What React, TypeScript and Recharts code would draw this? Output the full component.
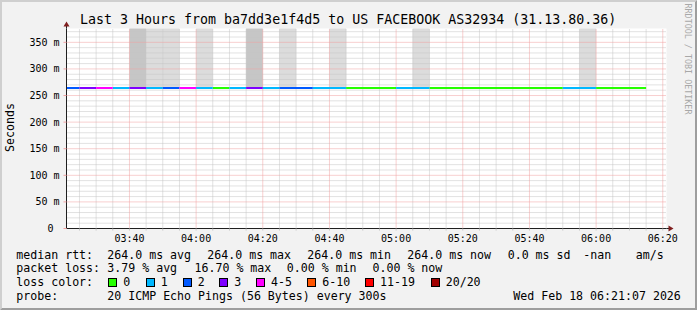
import React from 'react';
import {
  ComposedChart,
  XAxis,
  YAxis,
  Line,
  ReferenceLine,
  ReferenceArea,
  ReferenceDot,
  CartesianGrid,
} from 'recharts';

const FONT = '"DejaVu Sans Mono", "Liberation Mono", monospace';

// ---------- text ----------
const title = 'Last 3 Hours from ba7dd3e1f4d5 to US FACEBOOK AS32934 (31.13.80.36)';
const yAxisTitle = 'Seconds';
const watermark = 'RRDTOOL / TOBI OETIKER';

// ---------- time range ----------
const rangeStart = '03:21:07';
const rangeEnd = '06:21:07';
const stepMinutes = 5;

// ---------- y axis (milliseconds) ----------
const yMax = 376;
const yTicks = [0, 50, 100, 150, 200, 250, 300, 350];

// ---------- series: one value per 5 minute step (step end time) ----------
const stepEnds = [
  '03:25', '03:30', '03:35', '03:40', '03:45', '03:50', '03:55', '04:00', '04:05', '04:10',
  '04:15', '04:20', '04:25', '04:30', '04:35', '04:40', '04:45', '04:50', '04:55', '05:00',
  '05:05', '05:10', '05:15', '05:20', '05:25', '05:30', '05:35', '05:40', '05:45', '05:50',
  '05:55', '06:00', '06:05', '06:10', '06:15',
];
const medianRttMs = [
  264, 264, 264, 264, 264, 264, 264, 264, 264, 264,
  264, 264, 264, 264, 264, 264, 264, 264, 264, 264,
  264, 264, 264, 264, 264, 264, 264, 264, 264, 264,
  264, 264, 264, 264, 264,
];
// index into lossLabels / lossColors
const lossBucket = [
  2, 3, 4, 1, 3, 1, 2, 4, 1, 0,
  1, 3, 1, 2, 2, 1, 1, 0, 0, 0,
  1, 1, 0, 0, 0, 0, 0, 0, 0, 0,
  1, 1, 0, 0, 0,
];
// smoke shading above the median: 0 none, 1 light, 2 dark
const smokeShade = [
  0, 0, 0, 0, 2, 1, 1, 0, 1, 0,
  0, 2, 0, 1, 0, 0, 1, 0, 0, 0,
  0, 1, 0, 0, 0, 0, 0, 0, 0, 0,
  0, 1, 0, 0, 0,
];

const lossLabels = ['0', '1', '2', '3', '4-5', '6-10', '11-19', '20/20'];
const lossColors = ['#26ff00', '#00b8ff', '#0059ff', '#7e00ff', '#ff00ff', '#ff5500', '#ff0000', '#a10000'];
const smokeColors = ['none', '#dcdcdc', '#c6c6c6'];

// ---------- legend texts ----------
const rttLine = [
  ['median rtt:', 16.3],
  ['264.0 ms avg', 107.3],
  ['264.0 ms max', 207.3],
  ['264.0 ms min', 307.3],
  ['264.0 ms now', 407.3],
  ['0.0 ms sd', 507.7],
  ['-nan', 583.3],
  ['am/s', 635.7],
];
const lossLine = [
  ['packet loss:', 16.3],
  ['3.79 % avg', 107.3],
  ['16.70 % max', 194.5],
  ['0.00 % min', 286.8],
  ['0.00 % now', 372.5],
];
const lossColorTitle = 'loss color:';
const lossBoxX = [108.3, 145.7, 182.7, 219.3, 256, 307.3, 365, 430.7];
const probeLine = [
  ['probe:', 16.3],
  ['20 ICMP Echo Pings (56 Bytes) every 300s', 107.3],
  ['Wed Feb 18 06:21:07 2026', 513.3],
];

// ---------- helpers ----------
const toMin = (s: string) => {
  const p = s.split(':').map(Number);
  return p[0] * 60 + p[1] + (p[2] || 0) / 60;
};
const pad = (n: number) => (n < 10 ? '0' + n : '' + n);
const fmtTime = (m: number) => pad(Math.floor(m / 60)) + ':' + pad(Math.round(m % 60));

const xStart = toMin(rangeStart);
const xEnd = toMin(rangeEnd);

// table for the library
const chartData: any[] = [];
stepEnds.forEach((e, i) => {
  const end = toMin(e);
  const start = end - stepMinutes;
  const key = 'c' + lossBucket[i];
  chartData.push({ t: start, [key]: medianRttMs[i] });
  chartData.push({ t: end, [key]: medianRttMs[i] });
});
const usedBuckets = Array.from(new Set(lossBucket)).sort();

const xTicks: number[] = [];
for (let m = Math.ceil(xStart / 5) * 5; m <= xEnd; m += 5) xTicks.push(m);
const xMinor = xTicks.filter((m) => m % 20 !== 0);
const xMajor = xTicks.filter((m) => m % 20 === 0);
const yMinor: number[] = [];
for (let v = 10; v < yMax; v += 10) if (v % 50 !== 0) yMinor.push(v);
const yMajor = yTicks.filter((v) => v > 0);

const GRID = '#c4c4c4';
const MGRID = '#f0a0a0';
const AXIS = '#1f1f1f';
const ARROW = '#801f1f';

const XArrow = (p: any) => (
  <g>
    <line x1={p.cx} y1={p.cy} x2={p.cx + 3} y2={p.cy} stroke={AXIS} strokeWidth={1} />
    <polygon
      points={`${p.cx + 2},${p.cy - 3} ${p.cx + 7},${p.cy} ${p.cx + 2},${p.cy + 3}`}
      fill={ARROW}
    />
  </g>
);
const YArrow = (p: any) => (
  <g>
    <line x1={p.cx} y1={p.cy} x2={p.cx} y2={p.cy - 3} stroke={AXIS} strokeWidth={1} />
    <polygon
      points={`${p.cx - 3},${p.cy - 2} ${p.cx},${p.cy - 7} ${p.cx + 3},${p.cy - 2}`}
      fill={ARROW}
    />
  </g>
);

export default function App() {
  const legendSize = 11.6;
  const base = [258.7, 272.4, 286.1, 299.8];
  return (
    <div
      style={{
        position: 'absolute',
        left: 0,
        top: 0,
        width: 697,
        height: 310,
        background: '#f2f2f2',
        overflow: 'hidden',
      }}
    >
      <div style={{ position: 'absolute', left: 0, top: 0 }}>
        <ComposedChart
          width={697}
          height={310}
          data={chartData}
          margin={{ top: 28.5, right: 30.5, bottom: 61.5, left: 0 }}
        >
          <CartesianGrid fill="#ffffff" stroke="none" horizontal={false} vertical={false} />
          <XAxis
            type="number"
            dataKey="t"
            domain={[xStart, xEnd]}
            allowDataOverflow
            ticks={xTicks}
            interval={0}
            height={20}
            tickFormatter={(v: number) => (v % 20 === 0 ? fmtTime(v) : '')}
            tick={{ fontSize: 10, fontFamily: FONT, fill: '#000' }}
            tickSize={2}
            tickMargin={4}
            tickLine={{ stroke: GRID }}
            axisLine={{ stroke: AXIS }}
          />
          <YAxis
            type="number"
            domain={[0, yMax]}
            allowDataOverflow
            ticks={yTicks}
            interval={0}
            width={66.5}
            tickFormatter={(v: number) => (v === 0 ? '0\u00a0' : v + ' m')}
            tick={{ fontSize: 10, fontFamily: FONT, fill: '#000' }}
            tickSize={3}
            tickMargin={4}
            tickLine={{ stroke: MGRID }}
            axisLine={{ stroke: AXIS }}
          />
          {stepEnds.map((e, i) =>
            smokeShade[i] > 0 ? (
              <ReferenceArea
                key={'s' + i}
                x1={toMin(e) - stepMinutes}
                x2={toMin(e)}
                y1={medianRttMs[i]}
                y2={yMax}
                fill={smokeColors[smokeShade[i]]}
                fillOpacity={1}
                stroke="none"
              />
            ) : null
          )}
          {yMinor.map((v) => (
            <ReferenceLine key={'ym' + v} y={v} stroke={GRID} strokeDasharray="1 1" strokeWidth={1} />
          ))}
          {xMinor.map((v) => (
            <ReferenceLine key={'xm' + v} x={v} stroke={GRID} strokeDasharray="1 1" strokeWidth={1} />
          ))}
          {yMajor.map((v) => (
            <ReferenceLine key={'yM' + v} y={v} stroke={MGRID} strokeDasharray="1 1" strokeWidth={1} />
          ))}
          {xMajor.map((v) => (
            <ReferenceLine key={'xM' + v} x={v} stroke={MGRID} strokeDasharray="1 1" strokeWidth={1} />
          ))}
          {usedBuckets.map((k) => (
            <Line
              key={'l' + k}
              type="linear"
              dataKey={'c' + k}
              stroke={lossColors[k]}
              strokeWidth={2}
              dot={false}
              activeDot={false}
              connectNulls={false}
              isAnimationActive={false}
            />
          ))}
          <ReferenceDot x={xEnd} y={0} r={0} ifOverflow="visible" shape={XArrow} />
          <ReferenceDot x={xStart} y={yMax} r={0} ifOverflow="visible" shape={YArrow} />
        </ComposedChart>
      </div>
      <svg
        width={697}
        height={310}
        style={{ position: 'absolute', left: 0, top: 0, pointerEvents: 'none' }}
        fontFamily={FONT}
      >
        <polygon points="0,0 697,0 695,2 2,2 2,308 0,310" fill="#cfcfcf" />
        <polygon points="697,0 697,310 0,310 2,308 695,308 695,2" fill="#9e9e9e" />
        <text x={80} y={24} fontSize={13.3} fill="#000">
          {title}
        </text>
        <text
          x={13.5}
          y={127.5}
          fontSize={11.6}
          fill="#000"
          textAnchor="middle"
          transform="rotate(-90 13.5 127.5)"
        >
          {yAxisTitle}
        </text>
        <text
          x={685}
          y={59}
          fontSize={8.4}
          fill="#a8a8a8"
          textAnchor="middle"
          transform="rotate(90 685 59)"
        >
          {watermark}
        </text>
        {rttLine.map(([t, x]) => (
          <text key={'r' + t} x={x as number} y={base[0]} fontSize={legendSize} fill="#000">
            {t}
          </text>
        ))}
        {lossLine.map(([t, x]) => (
          <text key={'p' + t} x={x as number} y={base[1]} fontSize={legendSize} fill="#000">
            {t}
          </text>
        ))}
        <text x={16.3} y={base[2]} fontSize={legendSize} fill="#000">
          {lossColorTitle}
        </text>
        {lossLabels.map((lab, i) => (
          <g key={'lc' + i}>
            <rect
              x={Math.round(lossBoxX[i]) + 0.5}
              y={278.5}
              width={8}
              height={8}
              fill={lossColors[i]}
              stroke="#000"
              strokeWidth={1}
            />
            <text x={lossBoxX[i] + 15} y={base[2]} fontSize={legendSize} fill="#000">
              {lab}
            </text>
          </g>
        ))}
        {probeLine.map(([t, x]) => (
          <text key={'pr' + t} x={x as number} y={base[3]} fontSize={legendSize} fill="#000">
            {t}
          </text>
        ))}
      </svg>
    </div>
  );
}
